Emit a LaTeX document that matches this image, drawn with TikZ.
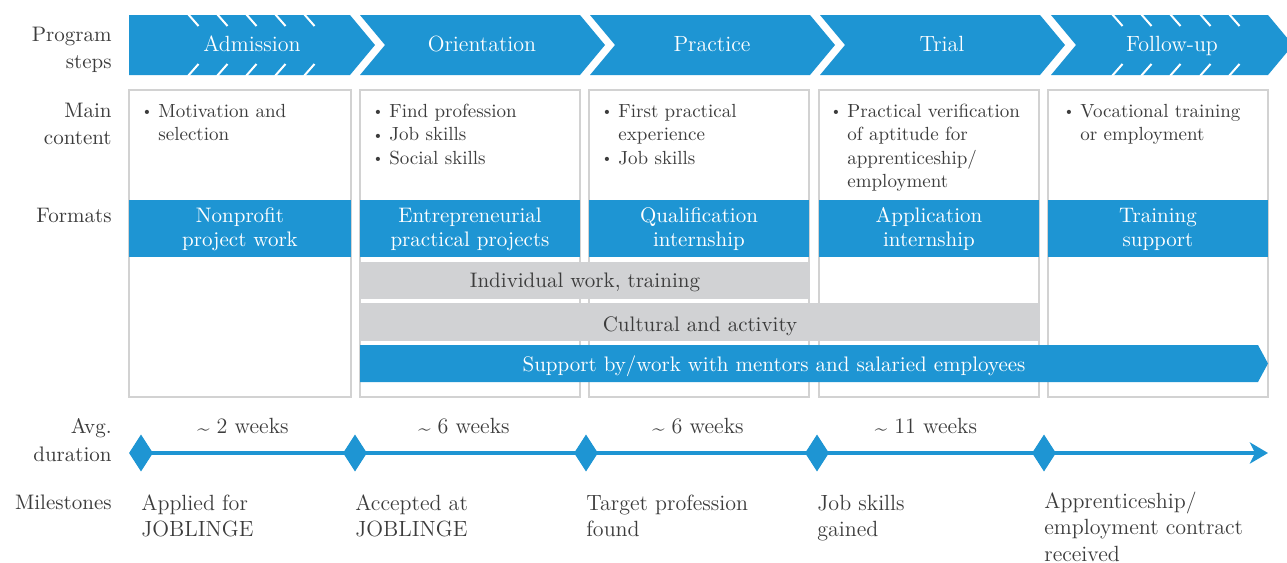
\documentclass[tikz,border=0pt]{standalone}
\usepackage{fontspec}
\usetikzlibrary{arrows.meta,shapes.geometric}
\definecolor{jblue}{HTML}{1E95D3}
\definecolor{jgray}{HTML}{D1D2D4}
\definecolor{jtext}{HTML}{3C3C3C}
\definecolor{jborder}{HTML}{D2D2D2}
\newcommand{\mybul}{{\fontsize{7}{8}\selectfont\raisebox{0.7pt}{\textbullet}}}
\newcommand{\mytil}{\raisebox{-1.2pt}{\textasciitilde}}
\begin{document}
\begin{tikzpicture}[x=0.5pt,y=-0.5pt,
  lbl/.style={font=\fontsize{10.5}{13.75}\selectfont, text=jtext, align=right, anchor=base east, inner sep=0},
  ttl/.style={font=\fontsize{11}{13}\selectfont, text=white, anchor=base, inner sep=0},
  bul/.style={font=\fontsize{9.5}{11.75}\selectfont, text=jtext, align=left, anchor=base west, inner sep=0},
  dot/.style={text=jtext, anchor=base, inner sep=0},
  fmt/.style={font=\fontsize{10.5}{12.2}\selectfont, text=white, align=center, anchor=base, inner sep=0},
  bandtxt/.style={font=\fontsize{10.5}{12}\selectfont, anchor=base, inner sep=0},
  tl/.style={font=\fontsize{11}{13.25}\selectfont, text=jtext, align=left, anchor=base west, inner sep=0},
  dur/.style={font=\fontsize{11}{13.5}\selectfont, text=jtext, anchor=base, inner sep=0},
  dia/.style={diamond, fill=jblue, minimum width=11.5pt, minimum height=18pt, inner sep=0},
  hatch/.style={white, line width=1pt},
  colbox/.style={draw=jborder, line width=0.7pt, fill=white},
  chev/.style={fill=jblue}
]
\useasboundingbox (0,0) rectangle (1287,563);
\fill[white] (0,0) rectangle (1287,563);

% ---- chevrons
\fill[chev] (129,15) -- (350,15) -- (375,45) -- (350,75) -- (129,75) -- cycle;
\fill[chev] (360,15) -- (580,15) -- (605,45) -- (580,75) -- (360,75) -- (385,45) -- cycle;
\fill[chev] (590,15) -- (810,15) -- (835,45) -- (810,75) -- (590,75) -- (615,45) -- cycle;
\fill[chev] (820,15) -- (1040,15) -- (1065,45) -- (1040,75) -- (820,75) -- (845,45) -- cycle;
\fill[chev] (1051,15) -- (1268,15) -- (1293,45) -- (1268,75) -- (1051,75) -- (1076,45) -- cycle;
\foreach \hx in {188,217,246,275,304,1112,1141,1170,1200,1229}{
  \draw[hatch] (\hx,14) -- (\hx+10.5,26);
  \draw[hatch] (\hx,76) -- (\hx+10.5,64);
}
\node[ttl] (t1) at (252,51.5) {Admission};
\node[ttl] (t2) at (482,51.5) {Orientation};
\node[ttl] (t3) at (712,51.5) {Practice};
\node[ttl] (t4) at (942,51.5) {Trial};
\node[ttl] (t5) at (1172,51.5) {Follow-up};

% ---- row labels (base anchor = last line)
\node[lbl] (lp) at (112,68.5) {Program\\steps};
\node[lbl] (lm) at (112,144.5) {Main\\content};
\node[lbl] (lf) at (112,222) {Formats};
\node[lbl] (la) at (112,461) {Avg.\\duration};
\node[lbl] (ls) at (112,509) {Milestones};

% ---- column boxes
\foreach \cl/\cr in {129/351,360/580,589/809,819/1039,1048/1268}{
  \path[colbox] (\cl,90) rectangle (\cr,397);
  \fill[jblue] (\cl,200) rectangle (\cr,257);
}

% ---- main content bullets
\node[dot] (b1) at (147,117) {\mybul};
\node[bul] (c1) at (158,140.5) {Motivation and\\selection};
\node[dot] (b2a) at (378,117) {\mybul};
\node[bul] (c2a) at (389,117) {Find profession};
\node[dot] (b2b) at (378,140.5) {\mybul};
\node[bul] (c2b) at (389,140.5) {Job skills};
\node[dot] (b2c) at (378,164) {\mybul};
\node[bul] (c2c) at (389,164) {Social skills};
\node[dot] (b3a) at (607,117) {\mybul};
\node[bul] (c3a) at (618,140.5) {First practical\\experience};
\node[dot] (b3b) at (607,164) {\mybul};
\node[bul] (c3b) at (618,164) {Job skills};
\node[dot] (b4) at (836,117) {\mybul};
\node[bul] (c4) at (847,187.5) {Practical verification\\of aptitude for\\apprenticeship/\\employment};
\node[dot] (b5) at (1069,117) {\mybul};
\node[bul] (c5) at (1080,140.5) {Vocational training\\or employment};

% ---- formats
\node[fmt] (f1) at (240,246.7) {Nonprofit\\project work};
\node[fmt] (f2) at (470,246.7) {Entrepreneurial\\practical projects};
\node[fmt] (f3) at (699,246.7) {Qualification\\internship};
\node[fmt] (f4) at (929,246.7) {Application\\internship};
\node[fmt] (f5) at (1158,246.7) {Training\\support};

% ---- spanning bands
\fill[jgray] (360,262) rectangle (810,299);
\fill[jgray] (360,303) rectangle (1040,341);
\fill[jblue] (360,345) -- (1258,345) -- (1268,363.5) -- (1258,382) -- (360,382) -- cycle;
\node[bandtxt, text=jtext] (g1) at (585,287.7) {Individual work, training};
\node[bandtxt, text=jtext] (g2) at (700,331.7) {Cultural and activity};
\node[bandtxt, text=white] (g3) at (774,371.7) {Support by/work with mentors and salaried employees};

% ---- timeline
\coordinate (tend) at (1268,453);
\node[dia] (d1) at (141,453) {};
\node[dia] (d2) at (355,453) {};
\node[dia] (d3) at (586,453) {};
\node[dia] (d4) at (817,453) {};
\node[dia] (d5) at (1044,453) {};
\draw[jblue, line width=2.4pt, -{Stealth[length=9pt,width=10.5pt,inset=2.5pt]}] (d1.center) -- (tend);
\foreach \d in {d1,d2,d3,d4,d5}{ \fill[jblue] (\d.north) -- (\d.east) -- (\d.south) -- (\d.west) -- cycle; }

\node[dur] (w1) at (243,433) {\mytil\ 2 weeks};
\node[dur] (w2) at (464,433) {\mytil\ 6 weeks};
\node[dur] (w3) at (698,433) {\mytil\ 6 weeks};
\node[dur] (w4) at (926,433) {\mytil\ 11 weeks};

\node[tl] (m1) at (141,536.5) {Applied for\\JOBLINGE};
\node[tl] (m2) at (355,536.5) {Accepted at\\JOBLINGE};
\node[tl] (m3) at (586,536.5) {Target profession\\found};
\node[tl] (m4) at (817,536.5) {Job skills\\gained};
\node[tl] (m5) at (1044,561) {Apprenticeship/\\employment contract\\received};
\end{tikzpicture}
\end{document}
